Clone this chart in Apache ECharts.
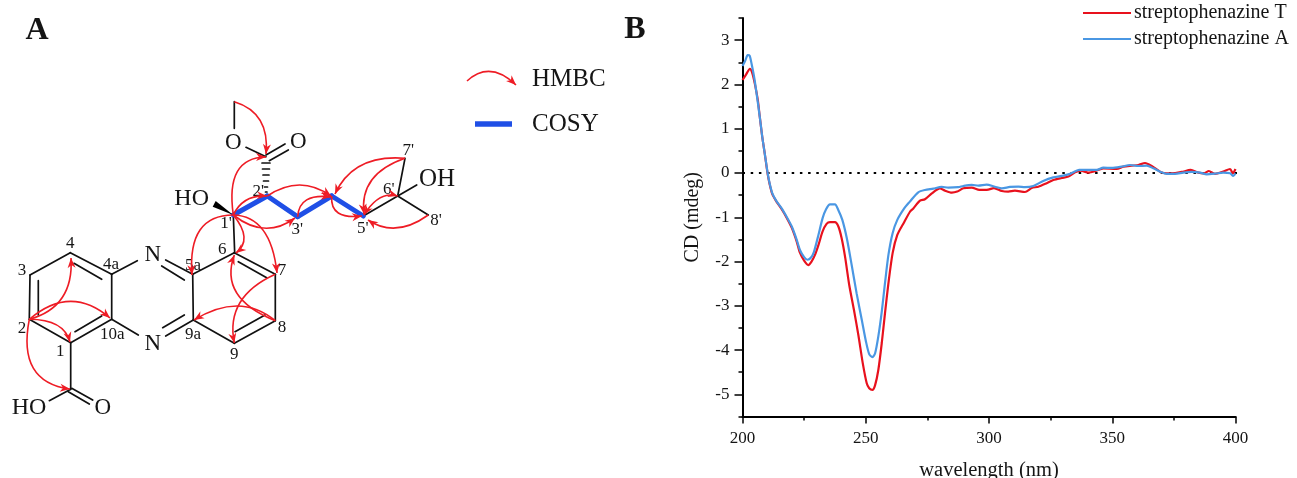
<!DOCTYPE html>
<html><head><meta charset="utf-8">
<style>html,body{margin:0;padding:0;background:#fff}#c{width:1297px;height:478px}</style>
<script src="https://cdn.jsdelivr.net/npm/echarts@6/dist/echarts.min.js"></script>
</head><body><div id="c"></div>
<script>
// ---- CD spectra [wavelength nm, CD mdeg] ----
const streptophenazineT = [[200,2.10],[201.3,2.21],[203,2.35],[204,2.25],[205.1,1.99],[206.2,1.65],[207,1.27],[208,0.82],[209.1,0.41],[210.2,-0.02],[211,-0.25],[212.1,-0.48],[213.7,-0.64],[215.9,-0.82],[217.9,-1.01],[220,-1.24],[222,-1.55],[223.3,-1.80],[225,-1.98],[226.7,-2.08],[228,-2.00],[229.4,-1.85],[230.8,-1.63],[232.5,-1.32],[234.1,-1.15],[235.5,-1.11],[237.5,-1.11],[238.9,-1.21],[240.2,-1.47],[241.6,-1.89],[243.3,-2.53],[245.2,-3.09],[247,-3.66],[248.8,-4.30],[250.4,-4.75],[251.4,-4.86],[252.7,-4.90],[253.8,-4.79],[255.1,-4.45],[256.5,-3.84],[257.8,-3.17],[259.2,-2.49],[260.9,-1.81],[262.8,-1.40],[265.3,-1.14],[268,-0.87],[269.3,-0.80],[272,-0.625],[274,-0.594],[276.8,-0.46],[280.1,-0.346],[282.2,-0.40],[284.9,-0.444],[287.1,-0.42],[289.6,-0.346],[293,-0.33],[296.1,-0.384],[299.7,-0.376],[302,-0.34],[305.2,-0.406],[307.8,-0.42],[310.5,-0.40],[314.6,-0.43],[317.3,-0.34],[320,-0.31],[323.4,-0.23],[326.1,-0.16],[329.5,-0.113],[332.2,-0.08],[334.9,0.015],[337.2,0.053],[340.3,0.008],[343,0.038],[346.4,0.105],[351.8,0.09],[354.5,0.143],[357.9,0.165],[360.6,0.18],[363.3,0.225],[366,0.158],[369.4,0.03],[372.1,-0.008],[375.5,0],[378.2,0.023],[381.8,0.068],[384.9,0.008],[387.2,-0.008],[389.2,0.045],[391.7,-0.02],[395,0.03],[397.8,0.09],[398.9,-0.008],[400,0.09]];
const streptophenazineA = [[200,2.415],[201.1,2.535],[202.1,2.66],[202.9,2.65],[203.7,2.46],[204.8,2.14],[205.9,1.72],[207,1.27],[208,0.82],[209.1,0.41],[210.2,0],[211,-0.23],[212.1,-0.46],[213.7,-0.63],[215.9,-0.80],[217.9,-0.99],[220,-1.21],[222,-1.51],[223.3,-1.74],[225,-1.90],[226.4,-1.96],[227.8,-1.91],[229,-1.78],[230.8,-1.40],[232.5,-1.02],[233.9,-0.82],[235.5,-0.71],[237.5,-0.71],[238.9,-0.84],[240.5,-1.06],[242.3,-1.47],[244.3,-2.08],[246.3,-2.72],[248.4,-3.32],[250.1,-3.81],[251.4,-4.09],[252.7,-4.16],[253.8,-4.07],[255.1,-3.69],[256.5,-3.13],[257.8,-2.49],[259.2,-1.85],[260.9,-1.36],[262.8,-1.06],[265.6,-0.80],[267.9,-0.647],[271.3,-0.436],[274,-0.384],[277.4,-0.354],[280.8,-0.316],[283.5,-0.33],[287.5,-0.32],[289.6,-0.294],[293,-0.27],[295.7,-0.286],[299,-0.264],[302.4,-0.31],[305.2,-0.346],[308.5,-0.316],[311.9,-0.31],[314.6,-0.32],[318,-0.294],[322,-0.18],[326.1,-0.10],[330.1,-0.06],[332.9,-0.02],[336.6,0.07],[340.3,0.068],[343.7,0.068],[346.4,0.12],[349.8,0.113],[353.8,0.143],[357.2,0.18],[360.6,0.158],[364,0.165],[366.7,0.105],[369.4,0.03],[372.1,-0.02],[375.5,-0.02],[378.8,0.008],[382.2,0.023],[385.6,0.008],[388.3,-0.03],[391.7,-0.015],[395,0.008],[397.8,-0.008],[399.1,-0.068],[400,-0.01]];
const zeroLine = [[200,0],[404,0]];
const yMajor = [-5,-4,-3,-2,-1,0,1,2,3];
const yMinor = [-5.5,-4.5,-3.5,-2.5,-1.5,-0.5,0.5,1.5,2.5,3.5];
const xMajor = [200,250,300,350,400];
const xMinor = [225,275,325,375];

// ---- structure panel (page-pixel scale) ----
const bondLines = [
 [30,275,70.3,252.7],[70.3,252.7,111.7,274.3],[111.7,274.3,111.7,319.3],[111.7,319.3,70.7,342.7],[70.7,342.7,29.3,319.3],[29.3,319.3,30,275],
 [74,263.3,101.7,279.3],[38.3,280.7,38.3,315],[75,331.7,101.7,316],
 [111.7,274.3,137.3,260.7],[165.7,260,192.7,274.3],[161.7,266,184.3,280],
 [192.7,274.3,234.3,252.7],[192.7,274.3,193.3,320],[234.3,252.7,275.3,274.3],[238.3,261.7,266.7,277.7],
 [275.3,274.3,275.3,320.7],[275.3,320.7,234.3,343.3],[235,331.7,265,315],[234.3,343.3,193.3,320],
 [193.3,320,165.7,336],[184.3,315,162.7,327.7],[138.3,335,111.7,319.3],
 [70.7,342.7,70.7,389.3],[70.7,389.3,49.3,400.7],[71.7,388.3,92.7,400],[68.3,391.7,89.3,404],
 [233.3,215,234.7,253.3],[246,147.3,266,156.7],[266,155,285,144],[269.3,160.7,288.3,150],[234.3,128.3,234.3,101.7],
 [363.3,216,397.7,196],[397.7,196,405,158.3],[397.7,196,416.7,185],[397.7,196,428.3,215],
 [262,163,270,163],[262.5,169,269.5,169],[263,175,269,175],[263.5,181,268.5,181],[264.5,187,267.5,187],[265.5,192,267,192]
];
const cosyLines = [[233.3,215,267.3,196],[267.3,196,297.7,216.7],[297.7,216.7,331.7,196],[331.7,196,363.3,216]];
const cosyKey = [[475,124,512,124]];
const wedges = [[233.3,215,215.7,201,212.7,206.7]];
// from x,y, control x,y, to x,y, double-headed flag
const hmbcArrows = [
 [29.3,319.3,74,307,71,258,0],[29.3,319.3,70.5,284,110,318,0],[29.3,319.3,63.8,319.4,70,342,0],[29.3,319.3,17,382,70,389,0],
 [275.3,320.7,240,291.6,194,320,0],[275.3,320.7,218.6,298,234.3,255,0],[275.3,274.3,225,297,234.3,343,0],
 [233.3,215,187.4,215,192,275,0],[233.3,215,253.3,239.4,236,253,0],[233.3,215,270.8,216,277,273,0],[233.3,215,265,240,295,218,0],
 [233.3,215,243,194.5,267,196,0],[233.3,215,225,157.4,266,157,0],[234.3,101.7,270,112.7,266,154,0],
 [267.3,196,300,174,331,196,0],[297.7,216.7,299,193,331,197,0],[331.7,196,329.8,220,362,216,0],
 [405,158.3,353.4,154,335,194,0],[405,158.3,359,174,364,214,0],[397.7,196,379,190.5,364,215,1],[428.3,215,395.4,238.5,368,220,0],
 [467,81,490,60,516,85,0]
];
const atomLabels = [
 ['A',37,31,32,'bold'],['B',635,30,32,'bold'],
 ['N',152.7,255,23],['N',152.7,344,23],['HO',29,408,24],['O',102.7,408,23],['HO',191.7,198.3,24],['O',233.3,142.7,23],['O',298.3,141.7,23],['OH',437,179,25],
 ['4',70.3,243.3,17],['3',22,270.7,17],['2',22,328.3,17],['1',60.3,351.7,17],['4a',111,264.7,17],['10a',112.3,334.3,17],['5a',193,266,17],['9a',193,334.3,17],
 ['6',222.3,249.3,17],['7',282,270.7,17],['8',282,327.7,17],['9',234.3,355,17],["1'",226,223.3,17],["2'",258.3,191.7,17],["3'",297.3,229.3,17],["5'",362.7,228.3,17],["6'",388.7,189.3,17],["7'",408.3,150.7,17],["8'",436,221,17]
];
const keyLabels = [['HMBC',532,79],['COSY',532,124]];

const SERIF = '"Liberation Serif","Times New Roman",serif';
const RED = '#ee1c25', BLUE = '#1f4fe6', INK = '#151515';

function lineItem(color, width, cap){
  return (p, api) => {
    const a = api.coord([api.value(0), api.value(1)]), b = api.coord([api.value(2), api.value(3)]);
    return {type:'line', shape:{x1:a[0],y1:a[1],x2:b[0],y2:b[1]}, style:{stroke:color,lineWidth:width,lineCap:cap}};
  };
}
function head(tip, ctl){
  let dx = tip[0]-ctl[0], dy = tip[1]-ctl[1]; const L = Math.hypot(dx,dy)||1; dx/=L; dy/=L;
  const nx=-dy, ny=dx, len=10, w=4;
  return {type:'polygon', shape:{points:[tip,[tip[0]-dx*len+nx*w,tip[1]-dy*len+ny*w],[tip[0]-dx*len*0.7,tip[1]-dy*len*0.7],[tip[0]-dx*len-nx*w,tip[1]-dy*len-ny*w]]}, style:{fill:RED}};
}
function arrowItem(p, api){
  const s = api.coord([api.value(0),api.value(1)]), c = api.coord([api.value(2),api.value(3)]), e = api.coord([api.value(4),api.value(5)]);
  const children = [{type:'bezierCurve', shape:{x1:s[0],y1:s[1],x2:e[0],y2:e[1],cpx1:c[0],cpy1:c[1]}, style:{stroke:RED,lineWidth:1.6,fill:null}}, head(e,c)];
  if (api.value(6)) children.push(head(s,c));
  return {type:'group', children};
}
function wedgeItem(p, api){
  const pts=[0,2,4].map(i=>api.coord([api.value(i),api.value(i+1)]));
  return {type:'polygon', shape:{points:pts}, style:{fill:'#000'}};
}
function labelItem(list, align){
  return (p, api) => {
    const it = list[p.dataIndex], c = api.coord([it[1],it[2]]);
    return {type:'text', x:c[0], y:c[1], style:{text:it[0], fill:INK, align:align||'center', verticalAlign:'middle',
      font:(it[4]||'normal')+' '+(it[3]||25)+'px '+SERIF}};
  };
}
const panel = {xAxisIndex:2, yAxisIndex:2, clip:false, silent:true, type:'custom'};

const chart = echarts.init(document.getElementById('c'), null, {renderer:'canvas'});
chart.setOption({
  animation:false, backgroundColor:'#fff',
  textStyle:{fontFamily:SERIF},
  legend:{orient:'vertical', left:1083, top:3, icon:'rect', itemWidth:48, itemHeight:2.2, itemGap:6, selectedMode:false, padding:0,
    data:['streptophenazine T','streptophenazine A'],
    textStyle:{fontFamily:SERIF,fontSize:20,color:INK,padding:[0,0,0,-2]}},
  grid:[{left:742.5,right:61.5,top:18,bottom:61.5,outerBoundsMode:'none'},{left:0,top:0,width:1297,height:478,outerBoundsMode:'none'}],
  xAxis:[
    {type:'value',gridIndex:0,min:200,max:400,interval:50,position:'bottom',name:'wavelength (nm)',nameLocation:'middle',nameGap:43.5,
     nameTextStyle:{fontFamily:SERIF,fontSize:20.5,color:INK},
     axisLine:{onZero:false,lineStyle:{color:'#000',width:2}},axisTick:{length:7,lineStyle:{color:'#000',width:1.5},customValues:xMajor},
     axisLabel:{customValues:xMajor,fontFamily:SERIF,fontSize:17,color:INK,margin:14},splitLine:{show:false}},
    {type:'value',gridIndex:0,min:200,max:400,interval:50,position:'bottom',
     axisLine:{show:false,onZero:false},axisTick:{length:4,lineStyle:{color:'#000',width:1.5},customValues:xMinor},axisLabel:{show:false},splitLine:{show:false}},
    {type:'value',gridIndex:1,min:0,max:1297,show:false}
  ],
  yAxis:[
    {type:'value',gridIndex:0,min:-5.5,max:3.5,interval:0.5,position:'left',name:'CD (mdeg)',nameLocation:'middle',nameGap:39.5,nameRotate:90,
     nameTextStyle:{fontFamily:SERIF,fontSize:20,color:INK},
     axisLine:{onZero:false,lineStyle:{color:'#000',width:2}},axisTick:{length:8,lineStyle:{color:'#000',width:1.5},customValues:yMajor},
     axisLabel:{customValues:yMajor,fontFamily:SERIF,fontSize:17,color:INK,margin:13},splitLine:{show:false}},
    {type:'value',gridIndex:0,min:-5.5,max:3.5,interval:0.5,position:'left',
     axisLine:{show:false,onZero:false},axisTick:{length:4,lineStyle:{color:'#000',width:1.5},customValues:yMinor},axisLabel:{show:false},splitLine:{show:false}},
    {type:'value',gridIndex:1,min:0,max:478,inverse:true,show:false}
  ],
  series:[
    {name:'zero',type:'line',data:zeroLine,symbol:'none',clip:false,silent:true,z:1,lineStyle:{color:'#000',width:2,type:[2.5,5.7]}},
    {name:'streptophenazine T',type:'line',data:streptophenazineT,symbol:'none',smooth:0.25,z:3,color:'#e8111d',lineStyle:{color:'#e8111d',width:2.2}},
    {name:'streptophenazine A',type:'line',data:streptophenazineA,symbol:'none',smooth:0.25,z:4,color:'#4a97e3',lineStyle:{color:'#4a97e3',width:2.2}},
    {...panel,name:'bonds',data:bondLines,renderItem:lineItem('#111',1.7,'round'),encode:{x:[0,2],y:[1,3]},z:5},
    {...panel,name:'cosy',data:cosyLines,renderItem:lineItem(BLUE,5,'round'),encode:{x:[0,2],y:[1,3]},z:6},
    {...panel,name:'cosyKey',data:cosyKey,renderItem:lineItem(BLUE,5.5,'butt'),encode:{x:[0,2],y:[1,3]},z:6},
    {...panel,name:'wedge',data:wedges,renderItem:wedgeItem,encode:{x:[0,2,4],y:[1,3,5]},z:6},
    {...panel,name:'labels',data:atomLabels.map(a=>[a[1],a[2]]),renderItem:labelItem(atomLabels),encode:{x:0,y:1},z:7},
    {...panel,name:'key',data:keyLabels.map(a=>[a[1],a[2]]),renderItem:labelItem(keyLabels,'left'),encode:{x:0,y:1},z:7},
    {...panel,name:'hmbc',data:hmbcArrows,renderItem:arrowItem,encode:{x:[0,2,4],y:[1,3,5]},z:8}
  ]
});
</script></body></html>
